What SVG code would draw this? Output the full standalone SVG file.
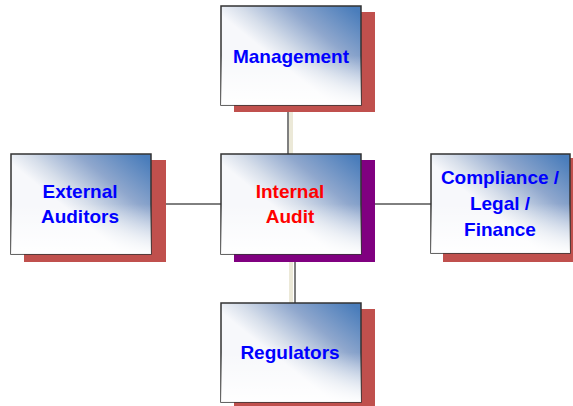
<svg xmlns="http://www.w3.org/2000/svg" width="573" height="406" viewBox="0 0 573 406">
<defs>
<linearGradient id="g" x1="0.97" y1="0.05" x2="0.4" y2="0.55">
<stop offset="0" stop-color="#4a7dbb"/>
<stop offset="0.45" stop-color="#8fa7cd"/>
<stop offset="0.8" stop-color="#d6deea"/>
<stop offset="1" stop-color="#f7f8fb"/>
</linearGradient>
<linearGradient id="w" x1="0" y1="0" x2="0" y2="1">
<stop offset="0.5" stop-color="#ffffff" stop-opacity="0"/>
<stop offset="1" stop-color="#ffffff" stop-opacity="0.95"/>
</linearGradient>
</defs>
<style>
.box{fill:url(#g);stroke:#333;stroke-width:1.5}
.ov{fill:url(#w)}
.sh{fill:#c0504d}
.shp{fill:#800080}
.t{font-family:"Liberation Sans",Arial,sans-serif;font-weight:bold;font-size:19px;text-anchor:middle;fill:#0000ff}
.tr{fill:#ff0000}
.c{stroke:#000;stroke-width:1;fill:none}
.band{fill:#ece9d8}
</style>
<rect width="573" height="406" fill="#fff"/>
<g id="connectors">
<rect class="band" x="289" y="105" width="4" height="50"/>
<rect class="band" x="289" y="262" width="4" height="41"/>
<line class="c" x1="288" y1="105" x2="288" y2="155"/>
<line class="c" x1="151" y1="204" x2="221" y2="204"/>
<line class="c" x1="361" y1="204" x2="431" y2="204" stroke-width="2"/>
<line class="c" x1="295" y1="254" x2="295" y2="303"/>
</g>
<g id="management">
<rect class="sh" x="234" y="12" width="141" height="100"/>
<rect class="box" x="221" y="6" width="140" height="99"/>
<rect class="ov" x="221" y="6" width="140" height="99"/>
<text class="t" x="291" y="63">Management</text>
</g>
<g id="internal-audit">
<rect class="shp" x="234" y="160" width="141" height="102"/>
<rect class="box" x="221" y="154" width="140" height="100"/>
<rect class="ov" x="221" y="154" width="140" height="100"/>
<text class="t tr" x="290" y="198">Internal</text>
<text class="t tr" x="290" y="223">Audit</text>
</g>
<g id="external-auditors">
<rect class="sh" x="24" y="160" width="142" height="102"/>
<rect class="box" x="11" y="154" width="140" height="100"/>
<rect class="ov" x="11" y="154" width="140" height="100"/>
<text class="t" x="80" y="198">External</text>
<text class="t" x="80" y="223">Auditors</text>
</g>
<g id="compliance">
<rect class="sh" x="443" y="158" width="135" height="104"/>
<rect class="box" x="431" y="154" width="139" height="99"/>
<rect class="ov" x="431" y="154" width="139" height="99"/>
<text class="t" x="500" y="184">Compliance /</text>
<text class="t" x="500" y="210">Legal /</text>
<text class="t" x="500" y="236">Finance</text>
</g>
<g id="regulators">
<rect class="sh" x="234" y="309" width="141" height="100"/>
<rect class="box" x="221" y="303" width="140" height="99"/>
<rect class="ov" x="221" y="303" width="140" height="99"/>
<text class="t" x="290" y="359">Regulators</text>
</g>
</svg>
